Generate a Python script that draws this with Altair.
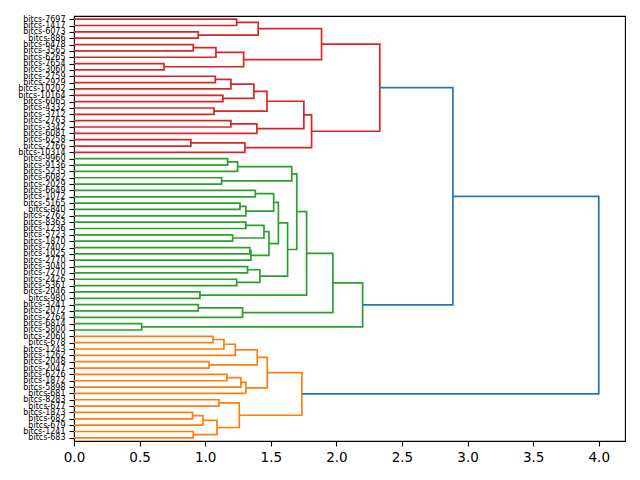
import altair as alt
import pandas as pd

# Leaf labels, top to bottom
leaves = [
    "bitcs-7697", "bitcs-1417", "bitcs-6073", "bitcs-886", "bitcs-6478", "bitcs-3565",
    "bitcs-6265", "bitcs-7654", "bitcs-3060", "bitcs-2759", "bitcs-2929", "bitcs-10202",
    "bitcs-10164", "bitcs-6065", "bitcs-4332", "bitcs-3712", "bitcs-2763", "bitcs-3342",
    "bitcs-6081", "bitcs-6258", "bitcs-2766", "bitcs-10314",
    "bitcs-9960", "bitcs-9136", "bitcs-5235", "bitcs-6082", "bitcs-2029", "bitcs-6649",
    "bitcs-1072", "bitcs-5165", "bitcs-840", "bitcs-2762", "bitcs-8363", "bitcs-1236",
    "bitcs-5723", "bitcs-1870", "bitcs-7402", "bitcs-1025", "bitcs-2770", "bitcs-3040",
    "bitcs-7270", "bitcs-2426", "bitcs-5361", "bitcs-2046", "bitcs-980", "bitcs-3241",
    "bitcs-2072", "bitcs-2764", "bitcs-6814", "bitcs-5800",
    "bitcs-2060", "bitcs-678", "bitcs-1243", "bitcs-1262", "bitcs-2048", "bitcs-2047",
    "bitcs-6276", "bitcs-1872", "bitcs-5898", "bitcs-681", "bitcs-8283", "bitcs-677",
    "bitcs-1873", "bitcs-682", "bitcs-679", "bitcs-1241", "bitcs-683",
]

# cluster sizes (top to bottom) and their colour group
group_sizes = [22, 28, 17]
group_names = ["C3", "C2", "C1"]

# merges: (child a, child b, height); ids < 67 are leaves, merge k gets id 67 + k
merge_a = [0, 2, 67, 4, 70, 7, 71, 69, 9, 75, 12, 76, 14, 78, 16, 81, 80, 19, 84, 83, 74,
           22, 88, 25, 89, 27, 29, 93, 92, 32, 34, 96, 36, 99, 98, 95, 39, 41, 103, 102, 91,
           43, 107, 45, 110, 109, 48, 112,
           50, 115, 116, 54, 117, 56, 120, 121, 119, 60, 62, 125, 65, 126, 124, 123,
           87, 131]
merge_b = [1, 3, 68, 5, 6, 8, 72, 73, 10, 11, 13, 77, 15, 79, 17, 18, 82, 20, 21, 85, 86,
           23, 24, 26, 90, 28, 30, 31, 94, 33, 35, 97, 37, 38, 100, 101, 40, 42, 104, 105, 106,
           44, 108, 46, 47, 111, 49, 113,
           51, 52, 53, 55, 118, 57, 58, 59, 122, 61, 63, 64, 66, 127, 128, 129,
           114, 130]
merge_h = [1.240, 0.947, 1.404, 0.909, 1.082, 0.686, 1.293, 1.887, 1.077, 1.196, 1.135,
           1.371, 1.067, 1.471, 1.196, 1.394, 1.752, 0.891, 1.303, 1.811, 2.331,
           1.171, 1.247, 1.125, 1.660, 1.382, 1.265, 1.310, 1.522, 1.310, 1.209, 1.448,
           1.341, 1.349, 1.486, 1.558, 1.323, 1.240, 1.417, 1.628, 1.698, 0.960, 1.773,
           0.947, 1.285, 1.973, 0.516, 2.200,
           1.059, 1.143, 1.229, 1.029, 1.397, 1.166, 1.272, 1.310, 1.473, 1.105, 0.904,
           0.983, 0.909, 1.090, 1.260, 1.737,
           2.888, 4.000]

palette = {"C0": "#1f77b4", "C1": "#ff7f0e", "C2": "#2ca02c", "C3": "#d62728"}

n = len(leaves)
leaf_group = []
for g, s in zip(group_names, group_sizes):
    leaf_group += [g] * s

pos_x = [0.0] * n
pos_y = [5.0 + 10.0 * i for i in range(n)]
grp = list(leaf_group)

rows = []
for k, (a, b, h) in enumerate(zip(merge_a, merge_b, merge_h)):
    color = grp[a] if grp[a] == grp[b] and grp[a] != "C0" else "C0"
    pts = [(pos_x[a], pos_y[a]), (h, pos_y[a]), (h, pos_y[b]), (pos_x[b], pos_y[b])]
    for j, (px, py) in enumerate(pts):
        rows.append({"link": k, "ord": j, "x": px, "y": py, "c": color})
    pos_x.append(h)
    pos_y.append((pos_y[a] + pos_y[b]) / 2)
    grp.append(color)

df = pd.DataFrame(rows)

label_arr = "[" + ",".join("'" + s + "'" for s in leaves) + "]"

chart = alt.Chart(df).mark_line(strokeWidth=1.7, strokeJoin="miter", clip=False).encode(
    x=alt.X("x:Q", scale=alt.Scale(domain=[0, 4.2], nice=False, zero=False),
            axis=alt.Axis(values=[0, 0.5, 1, 1.5, 2, 2.5, 3, 3.5, 4], format=".1f",
                          title=None, grid=False, labelFlush=False, labelFontSize=13.5,
                          tickSize=5, labelPadding=4, domain=False)),
    y=alt.Y("y:Q", scale=alt.Scale(domain=[0, 10 * n], nice=False, zero=False, reverse=True),
            axis=alt.Axis(values=[5 + 10 * i for i in range(n)], title=None, grid=False,
                          labelExpr=label_arr + "[round((datum.value - 5) / 10)]",
                          labelFlush=False, labelOverlap=False, labelFontSize=8,
                          tickSize=5, labelPadding=4, domain=False)),
    detail="link:N",
    order="ord:Q",
    color=alt.Color("c:N", scale=alt.Scale(domain=list(palette.keys()),
                                           range=list(palette.values())), legend=None),
).properties(
    width=551, height=425,
    autosize=alt.AutoSizeParams(type="none"),
    padding={"left": 74, "top": 16, "right": 15, "bottom": 39},
).configure_view(
    stroke="black", strokeWidth=1.1
).configure_axis(
    labelFont="DejaVu Sans", labelColor="black", tickColor="black", tickWidth=1.1
)

chart.save("out.html", embed_options={"renderer": "svg", "actions": False})
